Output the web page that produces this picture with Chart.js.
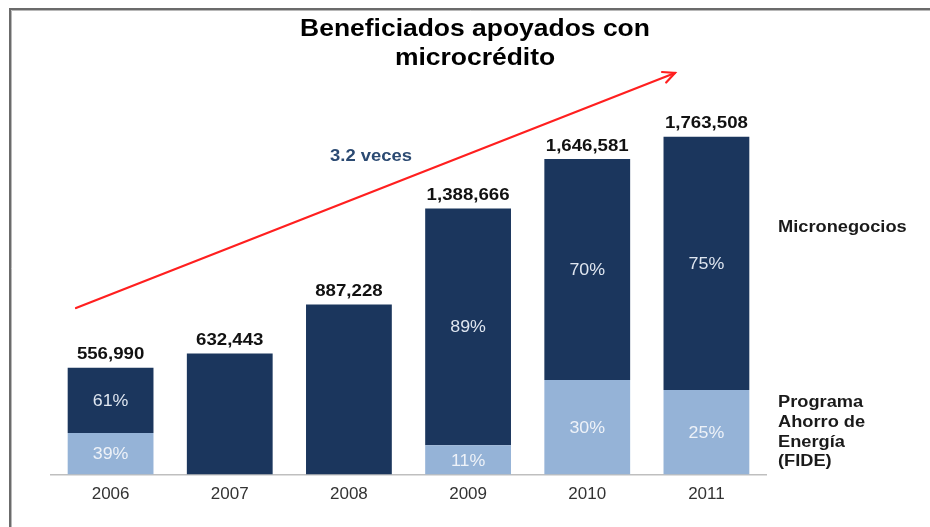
<!DOCTYPE html>
<html>
<head>
<meta charset="utf-8">
<script src="https://cdn.jsdelivr.net/npm/chart.js@4.4.1/dist/chart.umd.min.js"></script>
<style>
  html, body { margin: 0; padding: 0; background: #ffffff; }
  #wrap { position: relative; width: 930px; height: 527px; }
  canvas { display: block; }
</style>
</head>
<body>
<div id="wrap"><canvas id="c" width="930" height="527"></canvas></div>
<script>
// ---- Data ----
const years = ["2006", "2007", "2008", "2009", "2010", "2011"];
const totals = [556990, 632443, 887228, 1388666, 1646581, 1763508];
const fideValues = [217226, 0, 0, 152753, 493974, 440877];
const microValues = [339764, 632443, 887228, 1235913, 1152607, 1322631];
const fidePctLabels = ["39%", "", "", "11%", "30%", "25%"];
const microPctLabels = ["61%", "", "", "89%", "70%", "75%"];
const titleLines = ["Beneficiados apoyados con", "microcrédito"];
const growthLabel = "3.2 veces";
const seriesMicroName = ["Micronegocios"];
const seriesFideName = ["Programa", "Ahorro de", "Energía", "(FIDE)"];

const DARK = "#1b365d";
const LIGHT = "#95b3d7";
const FONT = "'Liberation Sans', Arial, sans-serif";

function txt(ctx, s, x, y, size, bold, color, align, sx) {
  ctx.save();
  ctx.font = (bold ? "bold " : "") + size + "px " + FONT;
  ctx.fillStyle = color;
  ctx.textBaseline = "middle";
  ctx.translate(x, y);
  ctx.scale(sx || 1, 1);
  ctx.textAlign = align || "center";
  ctx.fillText(s, 0, 0);
  ctx.restore();
}

const decor = {
  id: "decor",
  beforeDraw(chart) {
    const ctx = chart.ctx;
    ctx.save();
    ctx.fillStyle = "#ffffff";
    ctx.fillRect(0, 0, chart.width, chart.height);
    // frame
    ctx.strokeStyle = "#6b6b6b";
    ctx.lineWidth = 2;
    ctx.beginPath();
    ctx.moveTo(10, 527);
    ctx.lineTo(10, 9);
    ctx.lineTo(930, 9);
    ctx.stroke();
    ctx.strokeStyle = "#b8b8b8";
    ctx.lineWidth = 1;
    ctx.beginPath();
    ctx.moveTo(11.5, 527);
    ctx.lineTo(11.5, 10.5);
    ctx.lineTo(930, 10.5);
    ctx.stroke();
    ctx.restore();
  },
  afterDatasetsDraw(chart) {
    const ctx = chart.ctx;
    const m0 = chart.getDatasetMeta(0).data;
    const m1 = chart.getDatasetMeta(1).data;
    const SX = 1.13;
    for (let i = 0; i < years.length; i++) {
      const b0 = m0[i], b1 = m1[i];
      txt(ctx, totals[i].toLocaleString("en-US"), b1.x, b1.y - 13, 16.5, true, "#111111", "center", SX);
      if (fidePctLabels[i]) {
        txt(ctx, fidePctLabels[i], b0.x, (b0.y + b0.base) / 2 + 1, 16.5, false, "#eef2f8", "center", 1.08);
      }
      if (microPctLabels[i]) {
        txt(ctx, microPctLabels[i], b1.x, (b1.y + b1.base) / 2 + 1, 16.5, false, "#dfe6f0", "center", 1.08);
      }
    }
    // title
    txt(ctx, titleLines[0], 475, 30, 23, true, "#000000", "center", 1.15);
    txt(ctx, titleLines[1], 475, 59, 23, true, "#000000", "center", 1.15);
    // growth arrow
    const ca = chart.chartArea;
    const x1 = ca.left + 25, y1 = ca.top + 255;
    const x2 = ca.left + 624, y2 = ca.top + 20;
    ctx.save();
    ctx.strokeStyle = "#ff1f1f";
    ctx.lineWidth = 2.2;
    ctx.lineCap = "round";
    ctx.beginPath();
    ctx.moveTo(x1, y1);
    ctx.lineTo(x2, y2);
    ctx.stroke();
    const ang = Math.atan2(y2 - y1, x2 - x1);
    const L = 13;
    ctx.beginPath();
    ctx.moveTo(x2 - L * Math.cos(ang - 0.45), y2 - L * Math.sin(ang - 0.45));
    ctx.lineTo(x2, y2);
    ctx.lineTo(x2 - L * Math.cos(ang + 0.45), y2 - L * Math.sin(ang + 0.45));
    ctx.stroke();
    ctx.restore();
    txt(ctx, growthLabel, 371, 157, 16, true, "#2b4a72", "center", 1.15);
    // series labels on the right
    txt(ctx, seriesMicroName[0], 778, 228, 16, true, "#1a1a1a", "left", 1.14);
    seriesFideName.forEach((s, k) => {
      txt(ctx, s, 778, 403 + k * 19.6, 16, true, "#1a1a1a", "left", 1.14);
    });
  }
};

new Chart(document.getElementById("c"), {
  type: "bar",
  data: {
    labels: years,
    datasets: [
      { label: "Programa Ahorro de Energía (FIDE)", data: fideValues, backgroundColor: LIGHT, borderWidth: 0 },
      { label: "Micronegocios", data: microValues, backgroundColor: DARK, borderWidth: 0 }
    ]
  },
  options: {
    responsive: false,
    animation: false,
    devicePixelRatio: 1,
    layout: { padding: { left: 51, right: 164, top: 53, bottom: 12 } },
    plugins: { legend: { display: false }, tooltip: { enabled: false }, title: { display: false } },
    scales: {
      x: {
        stacked: true,
        categoryPercentage: 1.0,
        barPercentage: 0.78,
        grid: { display: false, drawTicks: false },
        border: { display: true, color: "#bfbfbf", width: 1.5 },
        ticks: { color: "#333333", font: { family: FONT, size: 17 }, padding: 10 }
      },
      y: {
        stacked: true,
        display: false,
        min: 0,
        max: 2200000
      }
    }
  },
  plugins: [decor]
});
</script>
</body>
</html>
